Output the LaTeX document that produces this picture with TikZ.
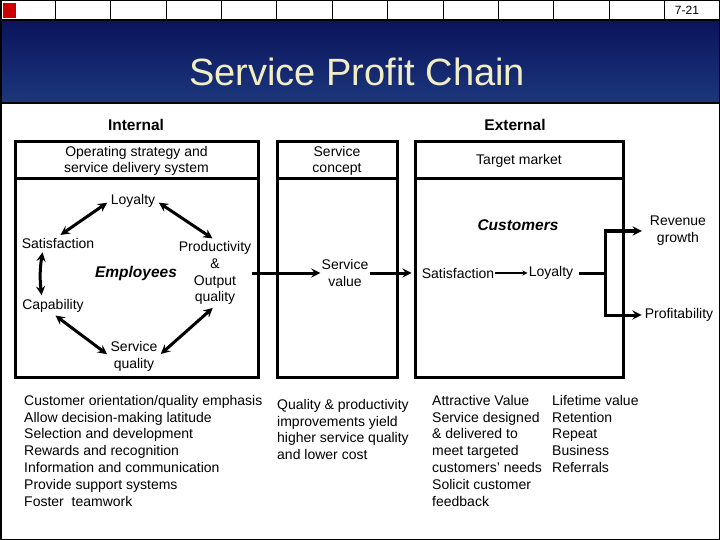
\documentclass[tikz,border=0pt]{standalone}
\usepackage{fontspec}
\setmainfont{Liberation Sans}
\usepackage{xcolor}
\usepackage{tikz}
\usetikzlibrary{arrows, positioning, calc}

\definecolor{bandtop}{RGB}{10,20,92}
\definecolor{bandbot}{RGB}{28,54,124}
\definecolor{titlecream}{RGB}{242,238,196}
\definecolor{tabred}{RGB}{204,0,0}

\begin{document}
\begin{tikzpicture}[
    x=1pt, y=-1pt,
    txt/.style={font=\fontsize{14}{16.8}\selectfont, align=center, inner sep=1pt},
    list/.style={font=\fontsize{14}{16.8}\selectfont, align=left, inner sep=0pt, anchor=north west},
    head/.style={font=\fontsize{15.5}{18}\selectfont\bfseries},
    hub/.style={font=\fontsize{15.5}{18}\selectfont\bfseries\itshape},
    panel/.style={rectangle, draw, line width=3pt, outer sep=0pt, inner sep=0pt, align=center, font=\fontsize{14}{16}\selectfont},
    arrow/.style={line width=3pt,->,>=stealth},
    ring/.style={line width=3pt,<->,>=stealth, shorten <=3pt, shorten >=3pt},
    thinarrow/.style={line width=1.3pt,->,>=stealth}
]
    \useasboundingbox (0,0) rectangle (720,540);

    % slide frame: tab strip and title band
    \foreach \i in {0,...,12}
        \draw[line width=1pt] (\i*55.385,0.5) rectangle ++(55.385,19.5);
    \fill[tabred] (3,3) rectangle (16,18);
    \node[font=\fontsize{12}{14}\selectfont] (page) at (687,10) {7-21};
    \shade[top color=bandtop, bottom color=bandbot] (0,20) rectangle (720,103);
    \draw[line width=1.5pt] (0,20) rectangle (720,103);
    \node[font=\fontsize{38}{40}\selectfont, text=titlecream] (title) at (357,72) {Service Profit Chain};
    \draw[line width=1.5pt] (0.75,0.75) rectangle (719.25,539.25);

    \node[head] (internal) at (136,125) {Internal};
    \node[head] (external) at (515,125) {External};

    % the three panels
    \node[panel, minimum width=243, minimum height=37] (ops) at (136.5,160.5) {Operating strategy and\\service delivery system};
    \node[panel, minimum width=243, minimum height=198, below=0pt of ops] (intbody) {};
    \node[panel, minimum width=120, minimum height=37] (concept) at (337,160.5) {Service\\concept};
    \node[panel, minimum width=120, minimum height=198, below=0pt of concept] (valbody) {};
    \node[panel, minimum width=208, minimum height=37] (market) at (519,160.5) {Target market};
    \node[panel, minimum width=208, minimum height=198, below=0pt of market] (custbody) {};

    % employee cycle
    \node[hub] (employees) at (136,273) {Employees};
    \node[txt] (eloyal) at (133,201) {Loyalty};
    \node[txt] (esat) at (58,243) {Satisfaction};
    \node[txt] (eprod) at (215,273) {Productivity\\\&\\Output\\quality};
    \node[txt] (ecap) at (53,306) {Capability};
    \node[txt] (equal) at (134,356) {Service\\quality};

    \draw[ring] (eloyal.west) -- (esat.north);
    \draw[ring] (eloyal.east) -- (eprod.north);
    \draw[ring] ([xshift=-15pt]esat.south) to[bend right=8] ([xshift=-11pt]ecap.north);
    \draw[ring] (ecap.south) -- (equal.west);
    \draw[ring] (equal.east) -- (eprod.south);

    % value and customers
    \node[txt] (value) at (345,273) {Service\\value};
    \node[hub] (customers) at (518,225) {Customers};
    \node[txt] (csat) at (458,273) {Satisfaction};
    \node[txt] (cloyal) at (551,273) {Loyalty};
    \node[txt] (revenue) at (678,231) {Revenue\\growth};
    \node[txt] (profit) at (679,315) {Profitability};
    \coordinate (split) at (605,273);

    \draw[arrow] (eprod.east) -- (value.west);
    \draw[arrow, shorten >=9pt] (value.east) -- (csat.west);
    \draw[thinarrow] (csat.east) -- (cloyal.west);
    \draw[line width=3pt, shorten <=5pt] (cloyal.east) -- (split);
    \draw[arrow, shorten >=7pt] (split) |- (revenue.west);
    \draw[arrow, shorten >=2pt] (split) |- (profit.west);

    % lists under the panels
    \node[list] (practices) at (24,395) {Customer orientation/quality emphasis\\Allow decision-making latitude\\Selection and development\\Rewards and recognition\\Information and communication\\Provide support systems\\Foster~ teamwork};
    \node[list] (gains) at (277,399) {Quality \& productivity\\improvements yield\\higher service quality\\and lower cost};
    \node[list] (offer) at (432,395) {Attractive Value\\Service designed\\\& delivered to\\meet targeted\\customers' needs\\Solicit customer\\feedback};
    \node[list] (retain) at (552,395) {Lifetime value\\Retention\\Repeat\\Business\\Referrals};
\end{tikzpicture}
\end{document}
